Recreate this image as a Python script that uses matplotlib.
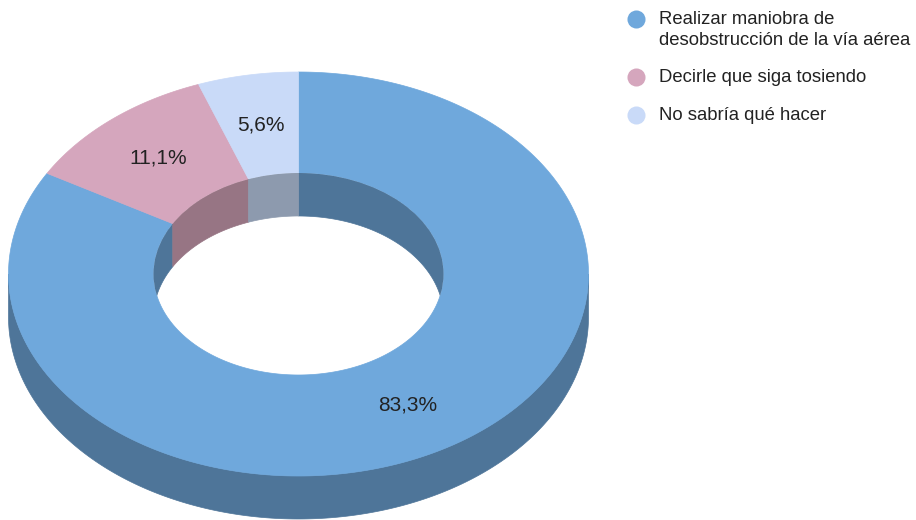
import numpy as np
import matplotlib
matplotlib.use("Agg")
import matplotlib.pyplot as plt
from matplotlib.patches import Polygon, Ellipse

plt.rcParams['font.family'] = ['Liberation Sans', 'DejaVu Sans']

# ---- data ----
categories = ["Realizar maniobra de\ndesobstrucción de la vía aérea",
              "Decirle que siga tosiendo",
              "No sabría qué hacer"]
values = [83.3, 11.1, 5.6]
value_labels = ["83,3%", "11,1%", "5,6%"]

# ---- style ----
top_colors = ["#6fa8dc", "#d5a6bd", "#c9daf8"]
side_colors = ["#4e7599", "#977584", "#8d9aae"]
text_color = "#222222"

W, H = 916, 520
fig = plt.figure(figsize=(W / 100, H / 100), dpi=100)
ax = fig.add_axes([0, 0, 1, 1])
ax.set_xlim(0, W)
ax.set_ylim(H, 0)
ax.axis('off')

# geometry (pixels)
cx, cy = 298.5, 274.0
a_out, b_out = 290.0, 202.0
ratio = 0.5
a_in, b_in = a_out * ratio, b_out * ratio
depth = 43.0


def pt(t, a, b, dy=0.0):
    r = np.radians(t)
    return np.column_stack([cx + a * np.sin(r), cy - b * np.cos(r) + dy])


def arc(t0, t1, a, b, dy=0.0):
    t = np.linspace(t0, t1, max(int(abs(t1 - t0)) * 2, 2))
    return pt(t, a, b, dy)


def intersect(r0, r1, s0, s1):
    lo, hi = max(r0, s0), min(r1, s1)
    return (lo, hi) if hi > lo else None


total = float(np.sum(values))
bounds = np.concatenate([[0], np.cumsum(values)]) / total * 360.0

# 1) outer side walls (front half: 90..270)
for i in range(len(values)):
    seg = intersect(bounds[i], bounds[i + 1], 90, 270)
    if seg:
        up = arc(seg[0], seg[1], a_out, b_out)
        dn = arc(seg[1], seg[0], a_out, b_out, depth)
        ax.add_patch(Polygon(np.vstack([up, dn]), closed=True, fc=side_colors[i],
                             ec=side_colors[i], lw=0.5, zorder=1))

# 2) top face ring
for i in range(len(values)):
    t0, t1 = bounds[i], bounds[i + 1]
    outer = arc(t0, t1, a_out, b_out)
    inner = arc(t1, t0, a_in, b_in)
    ax.add_patch(Polygon(np.vstack([outer, inner]), closed=True, fc=top_colors[i],
                         ec=top_colors[i], lw=0.5, zorder=2))

# 3) inner walls (back half), clipped to the top inner ellipse
clip = Ellipse((cx, cy), 2 * a_in, 2 * b_in, transform=ax.transData, fc='none', ec='none')
ax.add_patch(clip)
for i in range(len(values)):
    for s0, s1 in [(-90, 90), (270, 450)]:
        seg = intersect(bounds[i], bounds[i + 1], s0, s1)
        if seg:
            up = arc(seg[0], seg[1], a_in, b_in)
            dn = arc(seg[1], seg[0], a_in, b_in, depth)
            p = Polygon(np.vstack([up, dn]), closed=True, fc=side_colors[i],
                        ec=side_colors[i], lw=0.5, zorder=3)
            ax.add_patch(p)
            p.set_clip_path(clip)

# 4) value labels at middle of the ring
rmid = (1 + ratio) / 2
for i, lab in enumerate(value_labels):
    tm = (bounds[i] + bounds[i + 1]) / 2
    x, y = pt(np.array([tm]), a_out * rmid, b_out * rmid)[0]
    ax.text(x, y, lab, ha='center', va='center', fontsize=15, color=text_color, zorder=5)

# 5) legend
leg_x_marker, leg_x_text = 636, 659
leg_y = [19, 77, 115]
for i, cat in enumerate(categories):
    ax.plot([leg_x_marker], [leg_y[i]], marker='o', ms=13, color=top_colors[i],
            mec='none', zorder=5)
    ax.text(leg_x_text, leg_y[i] - 8, cat, ha='left', va='top', fontsize=13.3,
            color=text_color, linespacing=1.32, zorder=5)

fig.savefig("out.png", dpi=100)
